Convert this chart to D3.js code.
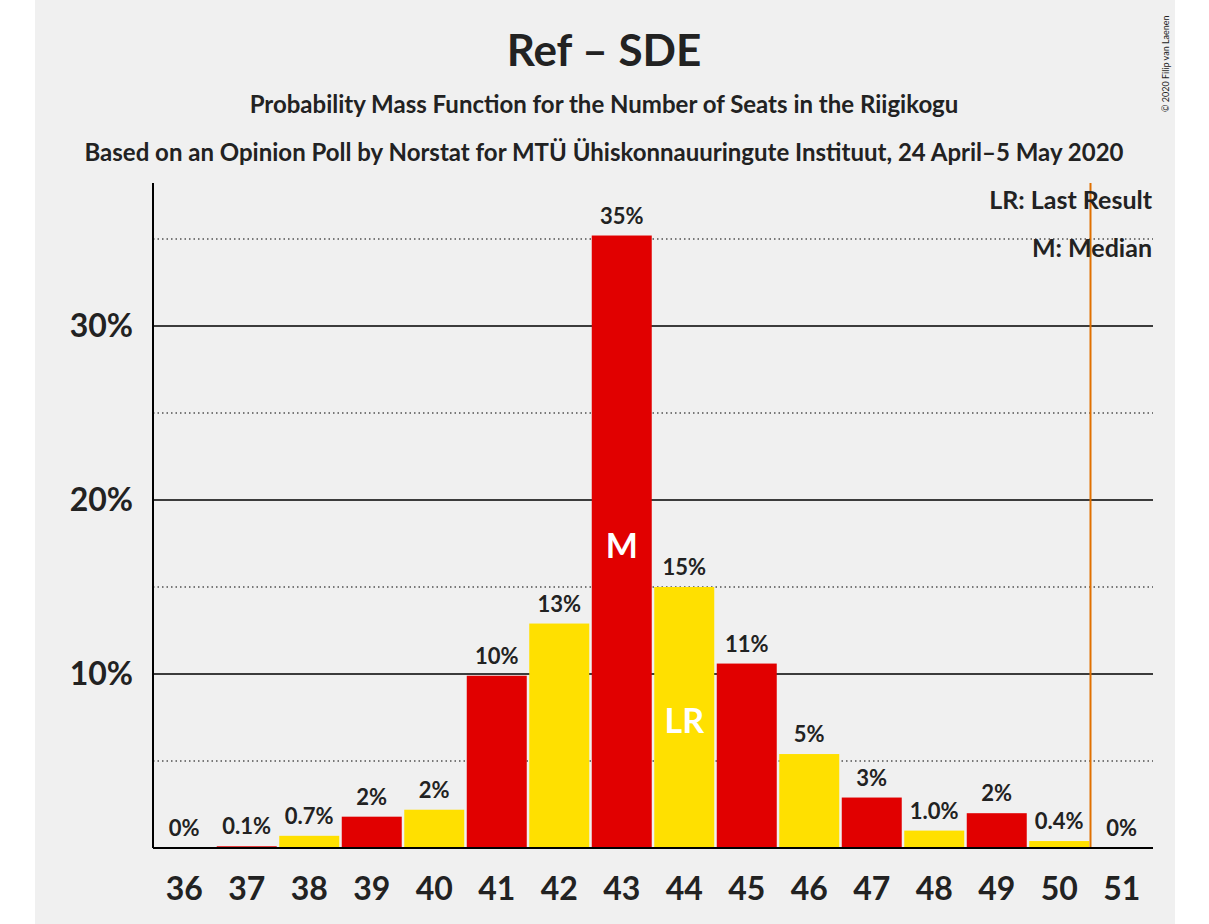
<!DOCTYPE html>
<html><head><meta charset="utf-8">
<script src="https://cdn.jsdelivr.net/npm/d3@7"></script>
<style>body{margin:0;background:#fff}text{font-family:Lato,"Open Sans",sans-serif}</style>
</head><body>
<script>
var seats = [36,37,38,39,40,41,42,43,44,45,46,47,48,49,50,51];
var probs = [0,0.1,0.7,1.8,2.2,9.9,12.9,35.2,15.0,10.6,5.4,2.9,1.0,2.0,0.4,0];
var labels = ['0%','0.1%','0.7%','2%','2%','10%','13%','35%','15%','11%','5%','3%','1.0%','2%','0.4%','0%'];
var yTicks = [10,20,30];
var yDotted = [5,15,25,35];
var medianSeat = 43, lastResult = 44, majority = 50.5;

var width = 1209, height = 924;
var svg = d3.select('body').append('svg').attr('width', width).attr('height', height);
svg.append('rect').attr('x', 35).attr('y', 0).attr('width', 1140).attr('height', height).attr('fill', '#f0f0f0');

var x = d3.scaleBand().domain(seats).range([153, 1153]).paddingInner(0.04).paddingOuter(0.02);
var y = d3.scaleLinear().domain([0, 1]).range([848, 830.65]);
y = d3.scaleLinear().domain([0, 10]).range([848, 674]);

yDotted.forEach(function(t){
  svg.append('line').attr('x1',153).attr('x2',1153).attr('y1',y(t)).attr('y2',y(t))
    .attr('stroke','#000').attr('stroke-dasharray','1.5,3');
});
yTicks.forEach(function(t){
  svg.append('line').attr('x1',153).attr('x2',1153).attr('y1',y(t)).attr('y2',y(t)).attr('stroke','#000').attr('stroke-width',1.5);
  svg.append('text').attr('x',133).attr('y',y(t)+11).attr('text-anchor','end')
    .attr('font-size',32).attr('font-weight','bold').attr('fill','#222').text(t+'%');
});

svg.selectAll('.bar').data(seats).enter().append('rect')
  .attr('x', function(d){return x(d);}).attr('width', x.bandwidth())
  .attr('y', function(d,i){return y(probs[i]);})
  .attr('height', function(d,i){return y(0)-y(probs[i]);})
  .attr('fill', function(d){return d%2===0 ? '#ffe000' : '#e10000';});

svg.selectAll('.lab').data(seats).enter().append('text')
  .attr('x', function(d){return x(d)+x.bandwidth()/2;})
  .attr('y', function(d,i){return y(probs[i])-12;})
  .attr('text-anchor','middle').attr('font-size',22).attr('font-weight','bold').attr('fill','#222')
  .text(function(d,i){return labels[i];});

svg.selectAll('.xl').data(seats).enter().append('text')
  .attr('x', function(d){return x(d)+x.bandwidth()/2;}).attr('y', 900)
  .attr('text-anchor','middle').attr('font-size',32).attr('font-weight','bold').attr('fill','#222')
  .text(function(d){return d;});

svg.append('text').attr('x', x(medianSeat)+x.bandwidth()/2).attr('y', 558).attr('text-anchor','middle')
  .attr('font-size',34).attr('font-weight','bold').attr('fill','#fff').text('M');
svg.append('text').attr('x', x(lastResult)+x.bandwidth()/2).attr('y', 733).attr('text-anchor','middle')
  .attr('font-size',34).attr('font-weight','bold').attr('fill','#fff').text('LR');

var mx = x(50)+x.bandwidth()+(x.step()-x.bandwidth())/2;
svg.append('line').attr('x1',mx).attr('x2',mx).attr('y1',183).attr('y2',848).attr('stroke','#e07000').attr('stroke-width',2);

svg.append('line').attr('x1',153).attr('x2',153).attr('y1',183).attr('y2',848).attr('stroke','#000').attr('stroke-width',2);
svg.append('line').attr('x1',153).attr('x2',1153).attr('y1',848).attr('y2',848).attr('stroke','#000').attr('stroke-width',2);

svg.append('text').attr('x',1152).attr('y',209).attr('text-anchor','end').attr('font-size',25).attr('font-weight','bold').attr('fill','#222').text('LR: Last Result');
svg.append('text').attr('x',1152).attr('y',257).attr('text-anchor','end').attr('font-size',25).attr('font-weight','bold').attr('fill','#222').text('M: Median');

svg.append('text').attr('x',604).attr('y',66).attr('text-anchor','middle').attr('font-size',44).attr('font-weight','bold').attr('fill','#222').text('Ref – SDE');
svg.append('text').attr('x',604).attr('y',113).attr('text-anchor','middle').attr('font-size',24).attr('font-weight','bold').attr('fill','#222').text('Probability Mass Function for the Number of Seats in the Riigikogu');
svg.append('text').attr('x',604).attr('y',161).attr('text-anchor','middle').attr('font-size',24).attr('font-weight','bold').attr('fill','#222').text('Based on an Opinion Poll by Norstat for MTÜ Ühiskonnauuringute Instituut, 24 April–5 May 2020');
svg.append('text').attr('transform','translate(1169,112) rotate(-90)').attr('font-size',9).attr('fill','#222').text('© 2020 Filip van Laenen');
</script>
</body></html>
